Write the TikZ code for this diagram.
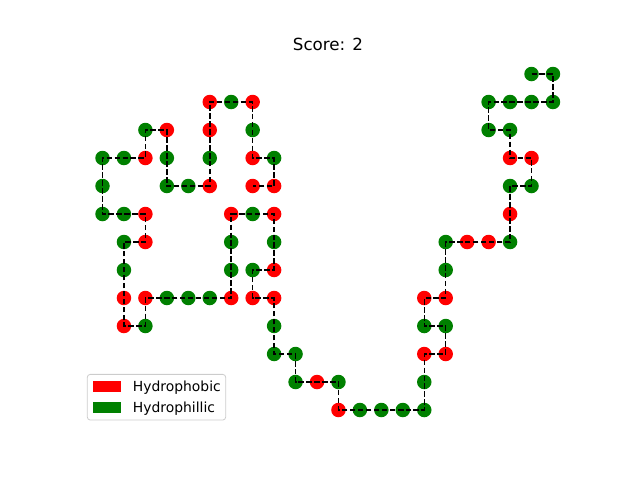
\documentclass[tikz,border=0pt]{standalone}
\usepackage{fontspec}
\setmainfont{DejaVu Sans}
\definecolor{hR}{HTML}{FF0000}
\definecolor{hG}{HTML}{008000}
\definecolor{leggray}{HTML}{CCCCCC}
\begin{document}
\begin{tikzpicture}[x=1pt,y=-1pt,
  bead/.style={circle,inner sep=0pt,minimum size=14.5pt,draw=none},
  beadR/.style={bead,fill=hR},
  beadG/.style={bead,fill=hG},
  chainline/.style={black,line width=1.5pt,dash pattern=on 5.55pt off 2.4pt},
  patch/.style={inner sep=0pt,minimum width=28pt,minimum height=10.8pt,draw=none},
  legtext/.style={anchor=base west,inner sep=0pt,font=\fontsize{13.9}{16}\selectfont}]
\useasboundingbox (0,0) rectangle (640,480);
\node[anchor=base,inner sep=0pt,font=\fontsize{16.7}{20}\selectfont] (title) at (328,50) {Score: 2};
\foreach \n/\i/\j/\c in {
1/20/0/G,2/21/0/G,3/21/1/G,4/20/1/G,5/19/1/G,6/18/1/G,7/18/2/G,8/19/2/G,9/19/3/R,10/20/3/R,
11/20/4/G,12/19/4/G,13/19/5/R,14/19/6/G,15/18/6/R,16/17/6/R,17/16/6/G,18/16/7/G,19/16/8/R,20/15/8/R,
21/15/9/G,22/16/9/G,23/16/10/R,24/15/10/R,25/15/11/G,26/15/12/G,27/14/12/G,28/13/12/G,29/12/12/G,30/11/12/R,
31/11/11/G,32/10/11/R,33/9/11/G,34/9/10/G,35/8/10/G,36/8/9/G,37/8/8/R,38/7/8/R,39/7/7/G,40/8/7/R,
41/8/6/G,42/8/5/R,43/7/5/G,44/6/5/R,45/6/6/G,46/6/7/G,47/6/8/R,48/5/8/G,49/4/8/G,50/3/8/G,
51/2/8/R,52/2/9/G,53/1/9/R,54/1/8/R,55/1/7/G,56/1/6/G,57/2/6/R,58/2/5/R,59/1/5/G,60/0/5/G,
61/0/4/G,62/0/3/G,63/1/3/G,64/2/3/R,65/2/2/G,66/3/2/R,67/3/3/G,68/3/4/G,69/4/4/G,70/5/4/R,
71/5/3/G,72/5/2/R,73/5/1/R,74/6/1/G,75/7/1/R,76/7/2/G,77/7/3/R,78/8/3/G,79/8/4/R,80/7/4/R}
{\node[bead\c] (n\n) at ({102.5+21.45*\i},{74+28*\j}) {};}
\draw[chainline] (n1.center) \foreach \k in {2,...,80}{ -- (n\k.center)};
% legend
\node[draw=leggray,fill=white,fill opacity=0.8,rounded corners=3pt,line width=0.8pt,
      minimum width=138.4pt,minimum height=45.7pt,inner sep=0pt] (legbox) at (156.5,397.2) {};
\node[patch,fill=hR] (pR) at (106.9,386.3) {};
\node[patch,fill=hG] (pG) at (106.9,407.2) {};
\node[legtext] (tR) at (132.7,391.5) {Hydrophobic};
\node[legtext] (tG) at (132.7,412.3) {Hydrophillic};
\end{tikzpicture}
\end{document}
